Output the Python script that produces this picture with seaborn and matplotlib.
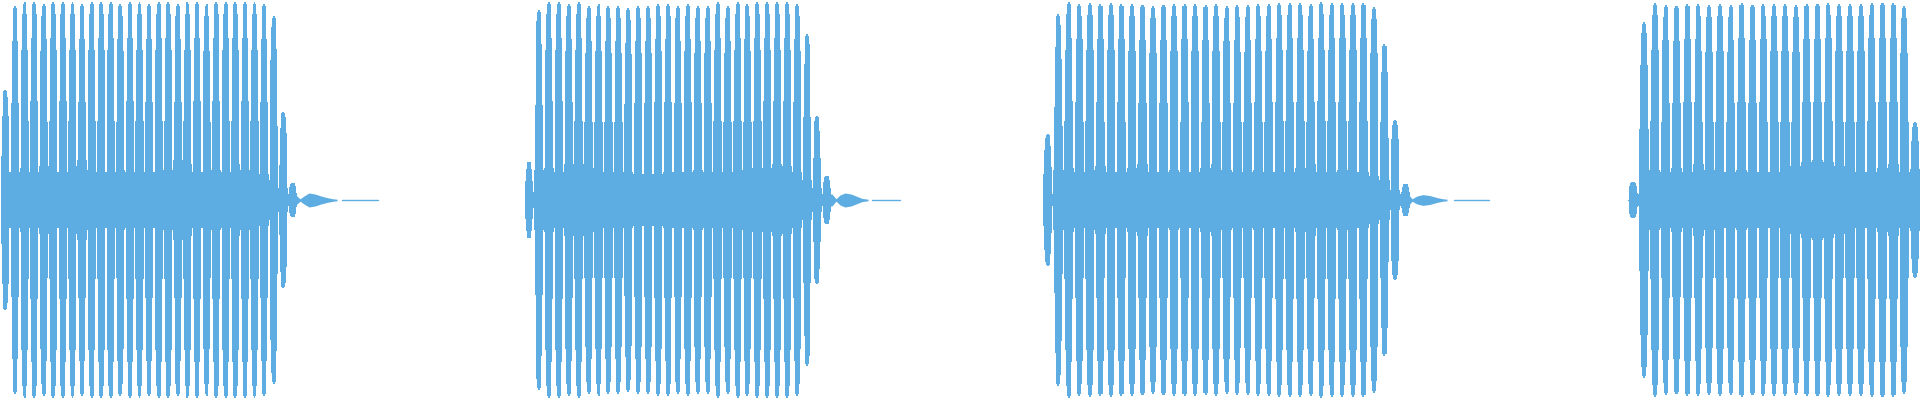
import numpy as np
import matplotlib
matplotlib.use("Agg")
import matplotlib.pyplot as plt
import seaborn as sns

# Time axis in ms, amplitude normalised to full scale (-1 .. 1)
TIME_MAX = 1920

# each burst: time of its first pulse and pulse spacing (ms)
BURST_START = [5.4, 529.0, 1047.8, 1633.2]
BURST_PERIOD = [9.58, 9.93, 10.52, 10.84]

# peak amplitude of each pulse
PEAKS_1 = [0.55, 0.97,
           0.99, 0.99, 0.98, 0.99, 0.99, 0.99, 0.98, 0.99, 0.99, 0.99,
           0.98, 0.99, 0.99, 0.98, 0.99, 0.99, 0.98, 0.99, 0.99, 0.98,
           0.99, 0.99, 0.99, 0.99, 0.99, 0.98,
           0.92, 0.44, 0.085]
PEAKS_2 = [0.19, 0.95,
           0.99, 0.99, 0.98, 0.99, 0.97, 0.98, 0.97, 0.97, 0.96, 0.97,
           0.97, 0.98, 0.98, 0.97, 0.98, 0.97, 0.97, 0.99, 0.97, 0.99,
           0.98, 0.99, 0.99, 0.99, 0.99, 0.98,
           0.83, 0.42, 0.12]
PEAKS_3 = [0.33, 0.93,
           0.99, 0.98, 0.985, 0.98, 0.985, 0.98, 0.98, 0.975, 0.97, 0.975,
           0.98, 0.98, 0.98, 0.975, 0.98, 0.97, 0.975, 0.975, 0.98, 0.98,
           0.985, 0.985, 0.985, 0.98, 0.99, 0.985, 0.985, 0.985, 0.985, 0.965,
           0.78, 0.40, 0.08]
PEAKS_4 = [0.09, 0.89,
           0.985, 0.975, 0.97, 0.98, 0.98, 0.975, 0.98, 0.975, 0.985, 0.975,
           0.98, 0.98, 0.98, 0.975, 0.98, 0.98, 0.985, 0.98, 0.98, 0.98,
           0.985, 0.985, 0.985, 0.97,
           0.39]

# level of the dense band between pulses
CORE_1 = [0.14, 0.14, 0.16, 0.14, 0.17, 0.14, 0.14, 0.17, 0.20, 0.15,
          0.14, 0.14, 0.15, 0.14, 0.15, 0.14, 0.14, 0.15, 0.20, 0.18,
          0.14, 0.14, 0.15, 0.14, 0.18, 0.15, 0.14, 0.13, 0.10, 0.06, 0.03]
CORE_2 = [0.04, 0.15, 0.16, 0.14, 0.18, 0.18, 0.16, 0.14, 0.14, 0.14,
          0.14, 0.13, 0.13, 0.13, 0.14, 0.14, 0.14, 0.15, 0.14, 0.14,
          0.14, 0.14, 0.15, 0.16, 0.16, 0.18, 0.17, 0.14, 0.10, 0.06, 0.03]
CORE_3 = [0.03, 0.15, 0.16, 0.14, 0.15, 0.17, 0.14, 0.14, 0.16, 0.18,
          0.14, 0.14, 0.15, 0.14, 0.14, 0.16, 0.18, 0.15, 0.14, 0.14,
          0.15, 0.14, 0.14, 0.14, 0.16, 0.18, 0.14, 0.14, 0.15, 0.14,
          0.14, 0.12, 0.10, 0.05, 0.03]
CORE_4 = [0.03, 0.12, 0.15, 0.14, 0.16, 0.14, 0.18, 0.15, 0.14, 0.14,
          0.15, 0.14, 0.14, 0.14, 0.15, 0.17, 0.19, 0.20, 0.19, 0.17,
          0.15, 0.14, 0.14, 0.16, 0.18, 0.14, 0.12]

# ringing after each burst
TAIL_T_1 = [292.8, 297, 300, 304, 309, 315, 321, 327, 333, 337]
TAIL_A_1 = [0.03, 0.02, 0.006, 0.02, 0.035, 0.03, 0.02, 0.012, 0.006, 0.004]
TAIL_T_2 = [826.9, 832, 836, 840, 845, 851, 857, 862, 868]
TAIL_A_2 = [0.03, 0.03, 0.006, 0.025, 0.035, 0.03, 0.018, 0.008, 0.004]
TAIL_T_3 = [1405.5, 1409, 1412, 1417, 1423, 1430, 1437, 1443, 1447]
TAIL_A_3 = [0.03, 0.025, 0.006, 0.02, 0.027, 0.022, 0.012, 0.006, 0.004]

# stretches of digital silence (flat zero line)
SILENCE_START = [342, 872, 1454, 1628]
SILENCE_END = [378, 900, 1489, 1634]

WAVE_COLOR = "#5DADE2"

# pulse profile: (width as share of period, share of peak height)
PULSE_LAYERS = [(0.84, 0.40), (0.77, 0.50), (0.69, 0.76), (0.60, 0.82),
                (0.50, 0.94), (0.40, 0.99), (0.20, 1.0)]

sns.set_style("white")
fig = plt.figure(figsize=(19.2, 4), dpi=100)
ax = fig.add_axes([0, 0, 1, 1])

peaks_all = [PEAKS_1, PEAKS_2, PEAKS_3, PEAKS_4]
core_all = [CORE_1, CORE_2, CORE_3, CORE_4]

for start, period, peaks, core in zip(BURST_START, BURST_PERIOD, peaks_all, core_all):
    peaks = np.asarray(peaks)
    core = np.asarray(core)
    t = start + period * np.arange(len(peaks))

    # dense band
    ax.fill_between(t, -core, core, step="mid", color=WAVE_COLOR, lw=0,
                    antialiased=False)

    # pulses, stacked so they taper to the peak
    for width, frac in PULSE_LAYERS:
        h = peaks * frac
        ax.bar(t, 2 * h, bottom=-h, width=width * period, color=WAVE_COLOR,
               lw=0, antialiased=False)

for tt, ta in [(TAIL_T_1, TAIL_A_1), (TAIL_T_2, TAIL_A_2), (TAIL_T_3, TAIL_A_3)]:
    ta = np.asarray(ta)
    ax.fill_between(tt, -ta, ta, color=WAVE_COLOR, lw=0)

for s, e in zip(SILENCE_START, SILENCE_END):
    sns.lineplot(x=[s, e], y=[0, 0], ax=ax, color=WAVE_COLOR, lw=1.0)

ax.set_xlim(0, TIME_MAX)
ax.set_ylim(-1, 1)
ax.axis("off")

fig.savefig("out.png", dpi=100)
